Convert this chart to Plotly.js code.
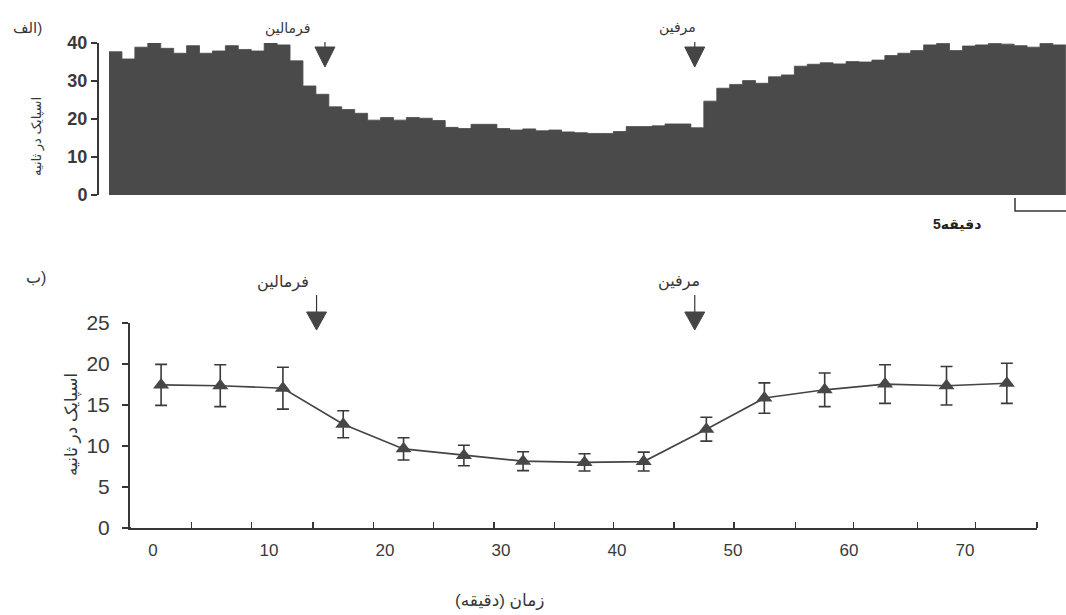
<!DOCTYPE html>
<html>
<head>
<meta charset="utf-8">
<script src="https://cdn.plot.ly/plotly-3.0.1.min.js"></script>
<style>html,body{margin:0;padding:0;background:#fff;}#chart{width:1066px;height:615px;}</style>
</head>
<body>
<div id="chart"></div>
<script>
// ---- Panel (الف): spikes per second, one bar per minute ----
const spikeRate = [
  37.7, 35.8, 38.9, 40.1, 38.6, 37.3, 39.3, 37.3, 37.9, 39.3,
  38.3, 37.9, 40.1, 39.5, 35.3, 28.7, 26.5, 23.2, 22.5, 21.5,
  19.7, 20.4, 19.7, 20.4, 20.2, 19.6, 17.8, 17.5, 18.6, 18.6,
  17.5, 17.1, 17.4, 16.9, 17.1, 16.6, 16.4, 16.2, 16.2, 16.7,
  18.0, 18.0, 18.2, 18.7, 18.7, 17.7, 24.7, 28.1, 29.1, 30.1,
  29.4, 31.1, 31.6, 33.9, 34.4, 34.8, 34.5, 35.1, 35.0, 35.5,
  36.7, 37.3, 38.0, 39.5, 39.9, 38.0, 39.2, 39.5, 39.9, 39.7,
  39.3, 38.9, 39.9, 39.5
];
const topYTicks = [0, 10, 20, 30, 40];

// ---- Panel (ب): mean spikes per second vs time (min) ----
const timeMin   = [0.7, 5.8, 11.2, 16.4, 21.6, 26.8, 31.9, 37.2, 42.3, 47.7, 52.7, 57.9, 63.1, 68.4, 73.6];
const meanRate  = [17.45, 17.35, 17.05, 12.65, 9.65, 8.85, 8.15, 8.0, 8.1, 12.05, 15.85, 16.85, 17.55, 17.35, 17.65];
const semRate   = [2.5, 2.55, 2.55, 1.65, 1.35, 1.25, 1.15, 1.05, 1.15, 1.45, 1.85, 2.05, 2.35, 2.35, 2.45];
const binEdges  = [3.3, 8.5, 13.8, 19.0, 24.2, 29.4, 34.6, 39.7, 44.9, 50.1, 55.4, 60.4, 65.9, 70.9, 76.2];
const bottomXTicks = [0, 10, 20, 30, 40, 50, 60, 70];
const bottomYTicks = [0, 5, 10, 15, 20, 25];

// event times (drug injections)
const topFormalin = 16.2, topMorphine = 44.8;
const botFormalin = 14.1, botMorphine = 46.7;

// text labels
const labelA = "الف)";
const labelB = "ب)";
const formalinText = "فرمالین";
const morphineText = "مرفین";
const yTitleText = "اسپایک در ثانیه";
const xTitleText = "\u200Fزمان (دقیقه)\u200F";
const scaleText = "5دقیقه";

const W = 1066, H = 615;
const px = v => v / W;          // pixel x -> paper
const py = v => 1 - v / H;      // pixel y -> paper

const FONT = "Liberation Sans, Arial, DejaVu Sans, sans-serif";
const INK = "#363636";
const BAR = "#4a4a4a";

// step outline of the histogram: each bar spans [i-0.5, i+0.5]
const stepX = spikeRate.map((_, i) => i - 0.5).concat([spikeRate.length - 0.5]);
const stepY = spikeRate.concat([spikeRate[spikeRate.length - 1]]);

const traces = [
  {
    type: "scatter", mode: "lines", x: stepX, y: stepY, xaxis: "x", yaxis: "y",
    line: {shape: "hv", color: BAR, width: 0.8}, fill: "tozeroy", fillcolor: BAR,
    hoverinfo: "skip", showlegend: false
  },
  {
    type: "scatter", mode: "lines+markers", x: timeMin, y: meanRate,
    xaxis: "x2", yaxis: "y2",
    line: {color: "#444", width: 1.6},
    marker: {symbol: "triangle-up", size: 14, color: "#474747"},
    error_y: {type: "data", array: semRate, visible: true, color: "#3a3a3a", thickness: 1.6, width: 6},
    showlegend: false, cliponaxis: false
  }
];

function arrowShapes(xref, xval, stemTop, triTop, triBot) {
  return [
    {type: "path", xref: xref, xsizemode: "pixel", xanchor: xval, yref: "paper",
     path: `M 0 ${py(stemTop)} L 0 ${py(triTop)}`, line: {color: INK, width: 1.2}},
    {type: "path", xref: xref, xsizemode: "pixel", xanchor: xval, yref: "paper",
     path: `M -10 ${py(triTop)} L 10 ${py(triTop)} L 0 ${py(triBot)} Z`,
     fillcolor: "#454545", line: {color: "#454545", width: 1}}
  ];
}

const shapes = [
  ...arrowShapes("x", topFormalin, 42, 47, 67),
  ...arrowShapes("x", topMorphine, 42, 47, 67),
  ...arrowShapes("x2", botFormalin, 295, 312, 330),
  ...arrowShapes("x2", botMorphine, 295, 312, 330),
  // 5-minute scale bar
  {type: "path", xref: "paper", yref: "paper",
   path: `M ${px(1015)} ${py(198)} L ${px(1015)} ${py(211)} L ${px(1066)} ${py(211)}`,
   line: {color: INK, width: 1.5}},
  // short extension of the lower x axis line to the left of the y axis
  {type: "line", xref: "paper", yref: "paper", x0: px(124), x1: px(131), y0: py(528), y1: py(528),
   line: {color: INK, width: 2}}
];

const ann = (x, y, text, size, extra) => Object.assign({
  xref: "paper", yref: "paper", x: px(x), y: py(y), text: text, showarrow: false,
  xanchor: "center", yanchor: "middle", font: {family: FONT, size: size, color: INK}
}, extra || {});

const annotations = [
  ann(27, 27, labelA, 15),
  ann(36, 277, labelB, 16),
  ann(287, 28, formalinText, 14),
  ann(677, 27, morphineText, 14),
  ann(283, 282, formalinText, 16),
  ann(679, 281, morphineText, 16),
  ann(37, 137, yTitleText, 13, {textangle: -90}),
  ann(72, 425, yTitleText, 17, {textangle: -90}),
  ann(500, 600, xTitleText, 17),
  ann(957, 224, scaleText, 14, {font: {family: FONT, size: 14, color: "#222", weight: "bold"}})
];

const layout = {
  width: W, height: H,
  margin: {l: 0, r: 0, t: 0, b: 0},
  paper_bgcolor: "#fff", plot_bgcolor: "rgba(0,0,0,0)",
  font: {family: FONT, color: INK},
  xaxis: {
    domain: [px(99), 1], range: [-1.274, 73.51], anchor: "y",
    visible: false, fixedrange: true
  },
  yaxis: {
    domain: [py(195), py(43)], range: [0, 40], anchor: "x",
    tickmode: "array", tickvals: topYTicks,
    ticks: "outside", ticklen: 6, tickwidth: 1.6, tickcolor: INK,
    showline: true, linecolor: INK, linewidth: 2, showgrid: false, zeroline: false,
    tickfont: {family: FONT, size: 18, color: "#3a3a3a", weight: "bold"}
  },
  xaxis2: {
    domain: [px(130), px(1037)], range: [-1.98, 76.2], anchor: "y2",
    tickmode: "array", tickvals: bottomXTicks, ticks: "", showgrid: false, zeroline: false,
    showline: true, linecolor: INK, linewidth: 2,
    ticklabelstandoff: 6,
    minor: {tickmode: "array", tickvals: binEdges, ticks: "inside", ticklen: 6, tickwidth: 1.5, tickcolor: INK, showgrid: false},
    tickfont: {family: FONT, size: 17, color: "#3a3a3a"}
  },
  yaxis2: {
    domain: [py(528), py(323)], range: [0, 25], anchor: "x2",
    tickmode: "array", tickvals: bottomYTicks,
    ticks: "outside", ticklen: 6, tickwidth: 1.6, tickcolor: INK,
    showline: true, linecolor: INK, linewidth: 2, showgrid: false, zeroline: false,
    ticklabelstandoff: 8,
    tickfont: {family: FONT, size: 21, color: "#3a3a3a"}
  },
  shapes: shapes,
  annotations: annotations
};

Plotly.newPlot("chart", traces, layout, {staticPlot: true, displayModeBar: false});
</script>
</body>
</html>
